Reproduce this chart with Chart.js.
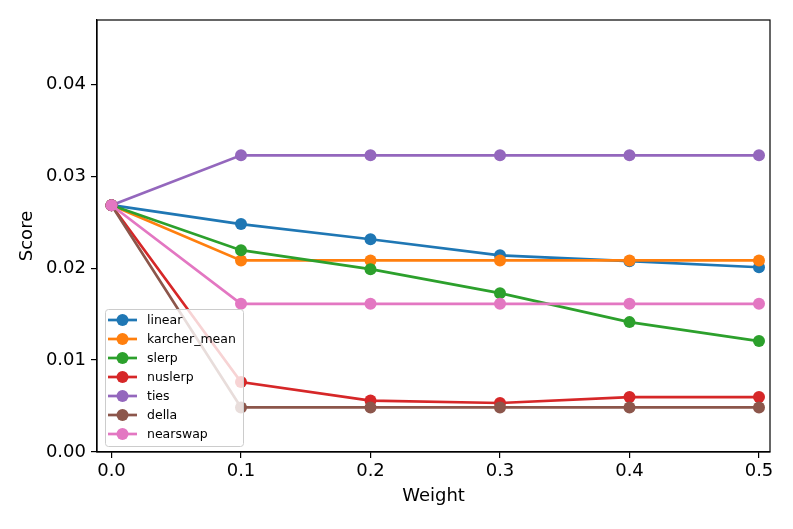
<!DOCTYPE html>
<html>
<head>
<meta charset="utf-8">
<script src="https://cdn.jsdelivr.net/npm/chart.js@4.4.1/dist/chart.umd.min.js"></script>
<style>
  html, body { margin: 0; padding: 0; background: #fff; }
  #wrap { width: 793px; height: 529px; }
</style>
</head>
<body>
<div id="wrap"><canvas id="grafico" width="793" height="529"></canvas></div>
<script>
// dados
const weights = [0.0, 0.1, 0.2, 0.3, 0.4, 0.5];
const linear = [0.02685, 0.0248, 0.02315, 0.0214, 0.02076, 0.0201];
const karcherMean = [0.02685, 0.02084, 0.02084, 0.02084, 0.02084, 0.02084];
const slerp = [0.02685, 0.02196, 0.01989, 0.01728, 0.01413, 0.01207];
const nuslerp = [0.02685, 0.00761, 0.0056, 0.00533, 0.00598, 0.00598];
const ties = [0.02685, 0.03228, 0.03228, 0.03228, 0.03228, 0.03228];
const della = [0.02685, 0.00485, 0.00485, 0.00485, 0.00485, 0.00485];
const nearswap = [0.02685, 0.01612, 0.01612, 0.01612, 0.01612, 0.01612];

const seriesNames = ['linear', 'karcher_mean', 'slerp', 'nuslerp', 'ties', 'della', 'nearswap'];
const seriesData = [linear, karcherMean, slerp, nuslerp, ties, della, nearswap];
const cores = ['#1f77b4', '#ff7f0e', '#2ca02c', '#d62728', '#9467bd', '#8c564b', '#e377c2'];

const xTicks = [0.0, 0.1, 0.2, 0.3, 0.4, 0.5];
const yTicks = [0.00, 0.01, 0.02, 0.03, 0.04];

const fonte = "'DejaVu Sans', sans-serif";

// legenda dentro da area do grafico (como no matplotlib)
const legendaInterna = {
    id: 'legendaInterna',
    afterDatasetsDraw(chart) {
        const ctx = chart.ctx;
        const area = chart.chartArea;
        const ds = chart.data.datasets;
        const linha = 19;
        const w = 138, h = (ds.length - 1) * linha + 23;
        const x0 = area.left + 8, y0 = area.bottom - 6 - h;
        ctx.save();
        ctx.beginPath();
        ctx.roundRect(x0 + 0.5, y0 + 0.5, w, h, 3);
        ctx.fillStyle = 'rgba(255,255,255,0.8)';
        ctx.fill();
        ctx.strokeStyle = '#cccccc';
        ctx.lineWidth = 1;
        ctx.stroke();
        ctx.font = '12.5px ' + fonte;
        ctx.textBaseline = 'middle';
        ds.forEach((d, i) => {
            const cy = y0 + 11 + i * linha;
            ctx.strokeStyle = d.borderColor;
            ctx.lineWidth = 2.7;
            ctx.beginPath();
            ctx.moveTo(x0 + 3, cy);
            ctx.lineTo(x0 + 32, cy);
            ctx.stroke();
            ctx.fillStyle = d.borderColor;
            ctx.beginPath();
            ctx.arc(x0 + 17.5, cy, 6, 0, Math.PI * 2);
            ctx.fill();
            ctx.fillStyle = '#000';
            ctx.fillText(d.label, x0 + 42, cy + 1);
        });
        ctx.restore();
    }
};

// moldura completa em volta da area
const moldura = {
    id: 'moldura',
    afterDraw(chart) {
        const a = chart.chartArea;
        const ctx = chart.ctx;
        ctx.save();
        ctx.strokeStyle = '#000';
        ctx.lineWidth = 1.2;
        ctx.strokeRect(a.left, a.top, a.right - a.left, a.bottom - a.top);
        ctx.restore();
    }
};

const ctx = document.getElementById('grafico').getContext('2d');
window.chart = new Chart(ctx, {
    type: 'line',
    data: {
        datasets: seriesNames.map((nome, i) => ({
            label: nome,
            data: weights.map((w, j) => ({ x: w, y: seriesData[i][j] })),
            borderColor: cores[i],
            backgroundColor: cores[i],
            borderWidth: 2.7,
            pointRadius: 6,
            pointBorderWidth: 0,
            pointHoverRadius: 6,
            fill: false,
            tension: 0,
            order: seriesNames.length - i
        }))
    },
    options: {
        responsive: false,
        animation: false,
        layout: { padding: { top: 20, right: 23, bottom: 20, left: 8 } },
        plugins: {
            legend: { display: false },
            tooltip: { enabled: false }
        },
        scales: {
            x: {
                type: 'linear',
                min: -0.0112,
                max: 0.5085,
                afterBuildTicks: s => { s.ticks = xTicks.map(v => ({ value: v })); },
                afterFit: s => { s.height = 57; },
                grid: { display: true, drawOnChartArea: false, drawTicks: true, tickLength: 6, color: '#000', lineWidth: 1.2 },
                border: { display: true, color: '#000', width: 1.2 },
                ticks: {
                    color: '#000', font: { family: fonte, size: 18 }, padding: 3,
                    maxRotation: 0, callback: v => v.toFixed(1)
                },
                title: {
                    display: true, text: 'Weight', color: '#000',
                    font: { family: fonte, size: 18 }, padding: { top: 0, bottom: 2 }
                }
            },
            y: {
                type: 'linear',
                min: 0,
                max: 0.047,
                afterBuildTicks: s => { s.ticks = yTicks.map(v => ({ value: v })); },
                afterFit: s => { s.width = 89; },
                grid: { display: true, drawOnChartArea: false, drawTicks: true, tickLength: 6, color: '#000', lineWidth: 1.2 },
                border: { display: true, color: '#000', width: 1.2 },
                ticks: {
                    color: '#000', font: { family: fonte, size: 18 }, padding: 5,
                    callback: v => v.toFixed(2)
                },
                title: {
                    display: true, text: 'Score', color: '#000',
                    font: { family: fonte, size: 18 }, padding: { top: 9, bottom: 0 }
                }
            }
        }
    },
    plugins: [legendaInterna, moldura]
});
</script>
</body>
</html>
